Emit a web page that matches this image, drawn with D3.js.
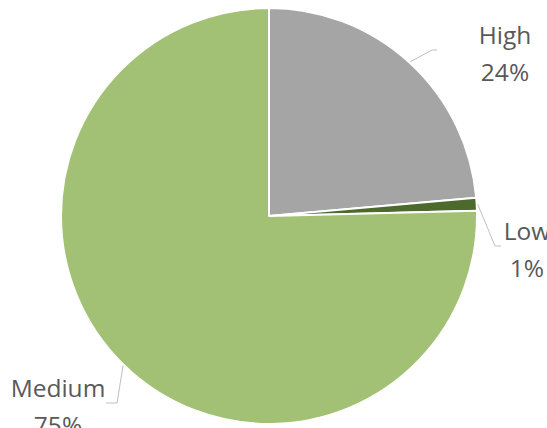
<!DOCTYPE html>
<html>
<head>
<meta charset="utf-8">
<script src="https://cdn.jsdelivr.net/npm/d3@7"></script>
<style>
  body { margin: 0; background: #fff; }
  svg { display: block; }
</style>
</head>
<body>
<div id="chart"></div>
<script>
// Data
const categories = ["High", "Low", "Medium"];
const values = [23.6, 1.0, 75.4];
const labels = ["24%", "1%", "75%"];
const colors = ["#a5a5a5", "#4b6a2c", "#a2c175"];

const width = 547, height = 428;
const cx = 269, cy = 216, radius = 208;

// Label layout (elbow point, end of leader, text centre)
const labelLayout = [
  { elbow: [432, 50], end: [437, 50], text: [505, 44] },
  { elbow: [495, 246], end: [501, 246], text: [527, 240] },
  { elbow: [117, 403], end: [106, 403], text: [58, 397] }
];

const svg = d3.select("#chart")
  .append("svg")
  .attr("width", width)
  .attr("height", height);

const g = svg.append("g")
  .attr("transform", `translate(${cx}, ${cy})`);

const pie = d3.pie()
  .sort(null)
  .value(function (d) { return d.value; });

const data = categories.map(function (c, i) {
  return { name: c, value: values[i], label: labels[i], color: colors[i] };
});

const arcs = pie(data);

const arc = d3.arc()
  .innerRadius(0)
  .outerRadius(radius);

g.selectAll("path.slice")
  .data(arcs)
  .enter()
  .append("path")
  .attr("class", "slice")
  .attr("d", arc)
  .style("fill", function (d) { return d.data.color; })
  .style("stroke", "#fff")
  .style("stroke-width", 2)
  .style("stroke-linejoin", "round");

// Leader lines
g.selectAll("polyline.leader")
  .data(arcs)
  .enter()
  .append("polyline")
  .attr("class", "leader")
  .attr("points", function (d, i) {
    const a = (d.startAngle + d.endAngle) / 2;
    const start = [Math.sin(a) * (radius + 1), -Math.cos(a) * (radius + 1)];
    const l = labelLayout[i];
    const elbow = [l.elbow[0] - cx, l.elbow[1] - cy];
    const end = [l.end[0] - cx, l.end[1] - cy];
    return [start, elbow, end].map(function (p) { return p.join(","); }).join(" ");
  })
  .style("fill", "none")
  .style("stroke", "#bfbfbf")
  .style("stroke-width", 1);

// Labels
const labelGroups = svg.selectAll("text.label")
  .data(arcs)
  .enter()
  .append("text")
  .attr("class", "label")
  .attr("text-anchor", "middle")
  .style("font-family", "'Open Sans', sans-serif")
  .style("font-size", "24.5px")
  .style("fill", "#595959");

labelGroups.append("tspan")
  .attr("x", function (d, i) { return labelLayout[i].text[0]; })
  .attr("y", function (d, i) { return labelLayout[i].text[1]; })
  .text(function (d) { return d.data.name; });

labelGroups.append("tspan")
  .attr("x", function (d, i) { return labelLayout[i].text[0]; })
  .attr("y", function (d, i) { return labelLayout[i].text[1] + 37; })
  .text(function (d) { return d.data.label; });
</script>
</body>
</html>
